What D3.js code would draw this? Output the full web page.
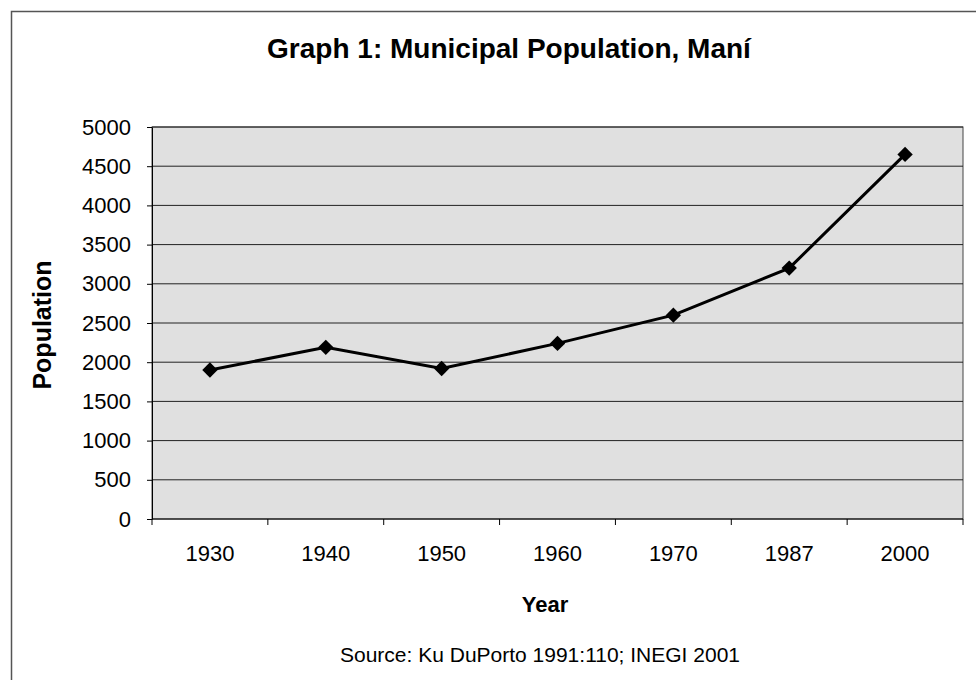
<!DOCTYPE html>
<html>
<head>
<meta charset="utf-8">
<script src="https://cdn.jsdelivr.net/npm/d3@7"></script>
<style>
    html, body { margin: 0; padding: 0; background: #fff; }
    text { font-family: "Liberation Sans", Arial, sans-serif; fill: #000; }
    .plot-title { font-size: 28px; font-weight: bold; }
    .axis-label { font-size: 22px; font-weight: bold; }
    .y-label { font-size: 25px; }
    .source { font-size: 21px; }
    .axis text { font-size: 22px; font-family: "Liberation Sans", Arial, sans-serif; }
    .axis path, .axis line { stroke: #000; }
</style>
</head>
<body>
<div id="popChart"></div>
<script>
"use strict"

// data
const years = ['1930', '1940', '1950', '1960', '1970', '1987', '2000']
const population = [1900, 2190, 1920, 2240, 2600, 3200, 4650]
const yTicks = [0, 500, 1000, 1500, 2000, 2500, 3000, 3500, 4000, 4500, 5000]

const maniChart = (function() {

    function line(id, opts = { w: 976, h: 680 }) {
        let chart = Object.assign({
            targetId: id,
            data: years.map((yr, i) => ({ year: yr, pop: population[i] })),
            title: 'Graph 1: Municipal Population, Maní',
            xLabel: 'Year',
            yLabel: 'Population',
            source: 'Source: Ku DuPorto 1991:110; INEGI 2001'
        }, opts)

        const frame = { l: 152, r: 963, t: 127, b: 519 }

        const x = d3.scaleBand()
                    .domain(years)
                    .range([frame.l, frame.r])
        const y = d3.scaleLinear()
                    .domain([0, 5000])
                    .range([frame.b, frame.t])

        let svg = d3.select(chart.targetId)
                    .append("svg")
                        .attr("width", chart.w)
                        .attr("height", chart.h)

        // outer chart border (runs off right and bottom of the scan)
        svg.append("rect")
            .attr("x", 11.5).attr("y", 11.5)
            .attr("width", 1000).attr("height", 1000)
            .attr("fill", "none")
            .attr("stroke", "#555")
            .attr("stroke-width", 1.5)

        // plot area background
        svg.append("rect")
            .attr("x", frame.l).attr("y", frame.t)
            .attr("width", frame.r - frame.l).attr("height", frame.b - frame.t)
            .attr("fill", "#e0e0e0")
            .attr("stroke", "#444")

        // gridlines
        svg.append("g")
            .selectAll("line")
            .data(yTicks.slice(1))
            .enter().append("line")
                .attr("x1", frame.l).attr("x2", frame.r)
                .attr("y1", d => y(d)).attr("y2", d => y(d))
                .attr("stroke", "#222")
                .attr("stroke-width", 1)

        // y-axis
        svg.append("g")
            .attr("class", "axis y-axis")
            .attr("transform", `translate(${ frame.l }, 0)`)
            .call(d3.axisLeft(y).tickValues(yTicks).tickFormat(d3.format("d"))
                    .tickSize(5).tickPadding(16).tickSizeOuter(0))

        // x-axis: ticks between categories, labels centered
        let xAx = svg.append("g")
            .attr("class", "axis x-axis")
            .attr("transform", `translate(0, ${ frame.b })`)
        xAx.append("line")
            .attr("x1", frame.l).attr("x2", frame.r)
            .attr("stroke", "#000")
        xAx.selectAll(".sep")
            .data(years.concat(['end']))
            .enter().append("line")
                .attr("class", "sep")
                .attr("x1", (d, i) => frame.l + i * x.bandwidth())
                .attr("x2", (d, i) => frame.l + i * x.bandwidth())
                .attr("y1", 0).attr("y2", 6)
                .attr("stroke", "#000")
        xAx.selectAll("text")
            .data(years)
            .enter().append("text")
                .text(d => d)
                .attr("text-anchor", "middle")
                .attr("x", d => x(d) + x.bandwidth() / 2)
                .attr("y", 42)

        // series line
        const path = d3.line()
                        .x(d => x(d.year) + x.bandwidth() / 2)
                        .y(d => y(d.pop))
        svg.append("path")
            .datum(chart.data)
            .attr("d", path)
            .attr("fill", "none")
            .attr("stroke", "#000")
            .attr("stroke-width", 3)

        // diamond markers
        svg.selectAll(".datapt")
            .data(chart.data)
            .enter().append("path")
                .attr("class", "datapt")
                .attr("d", d3.symbol().type(d3.symbolDiamond2).size(150)())
                .attr("transform", d => `translate(${ x(d.year) + x.bandwidth() / 2 }, ${ y(d.pop) })`)
                .attr("fill", "#000")

        // title
        svg.append("text")
            .text(chart.title)
            .attr("class", "plot-title")
            .attr("text-anchor", "middle")
            .attr("x", 509).attr("y", 58)

        // x-axis label
        svg.append("text")
            .text(chart.xLabel)
            .attr("class", "axis-label")
            .attr("text-anchor", "middle")
            .attr("x", 545).attr("y", 612)

        // y-axis label
        svg.append("text")
            .text(chart.yLabel)
            .attr("class", "axis-label y-label")
            .attr("text-anchor", "middle")
            .attr("transform", `translate(51, 325) rotate(-90)`)

        // source note
        svg.append("text")
            .text(chart.source)
            .attr("class", "source")
            .attr("text-anchor", "middle")
            .attr("x", 540).attr("y", 662)
    }

    return { line: line }

}())

maniChart.line("#popChart")
</script>
</body>
</html>
